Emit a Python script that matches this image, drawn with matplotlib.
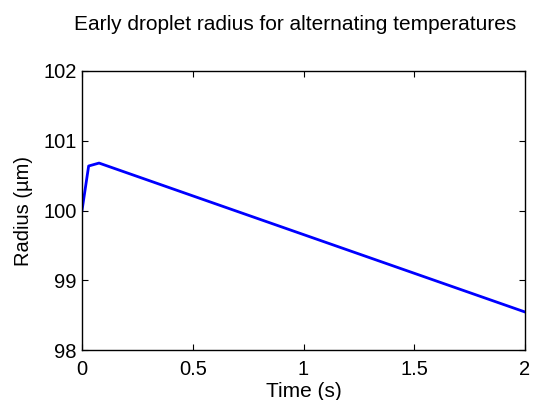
import matplotlib
matplotlib.use('Agg')
import matplotlib.pyplot as plt

plt.rcParams['font.family'] = ['Liberation Sans', 'DejaVu Sans']

# 数据
time_s = [0.0, 0.03, 0.077, 0.5, 1.0, 1.5, 2.0]
radius_um = [100.0, 100.638, 100.68, 100.21, 99.655, 99.10, 98.545]

fig = plt.figure(figsize=(5.37, 4.0), dpi=100)
ax = fig.add_axes([82 / 537, 1 - 350 / 400, 443 / 537, 279 / 400])

ax.plot(time_s, radius_um, color=(0, 0, 1), linewidth=2)

ax.set_xlim(0, 2)
ax.set_ylim(98, 102)
ax.set_xticks([0, 0.5, 1, 1.5, 2])
ax.set_xticklabels(['0', '0.5', '1', '1.5', '2'])
ax.set_yticks([98, 99, 100, 101, 102])

ax.tick_params(direction='in', length=4, width=0.8, top=True, right=True,
               labelsize=14.5, colors='black')
ax.tick_params(axis='x', pad=7)
ax.tick_params(axis='y', pad=4)
for s in ax.spines.values():
    s.set_linewidth(1.0)

ax.set_xlabel('Time (s)', fontsize=15, labelpad=2.5)
ax.set_ylabel('Radius (µm)', fontsize=14.5, labelpad=7.5)

fig.text(295 / 537, 1 - 29.5 / 400, 'Early droplet radius for alternating temperatures',
         ha='center', va='baseline', fontsize=15)

fig.savefig('out.png', dpi=100)
